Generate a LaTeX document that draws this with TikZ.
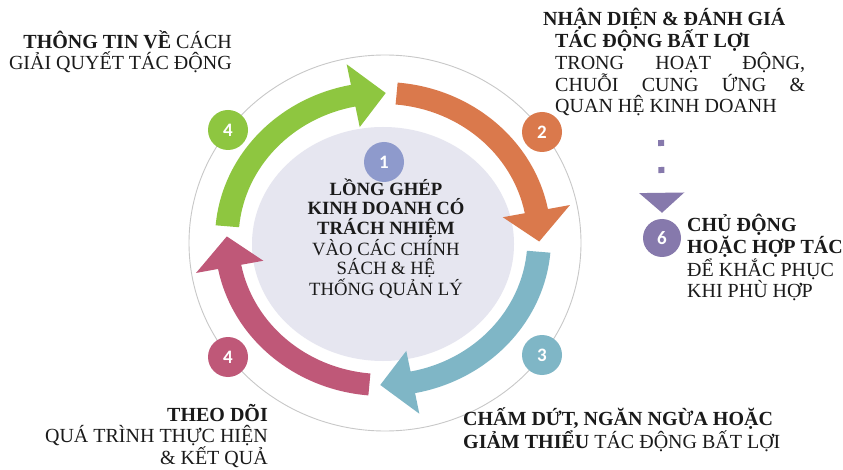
\documentclass[tikz,border=0pt]{standalone}
\usepackage{fontspec}
\setmainfont{Liberation Serif}
\newfontfamily\numfont{Carlito}
\usetikzlibrary{arrows.meta}
\definecolor{MyOrange}{HTML}{DA794C}
\definecolor{MyTeal}{HTML}{7FB6C6}
\definecolor{MyPink}{HTML}{BF5878}
\definecolor{MyGreen}{HTML}{8EC640}
\definecolor{MyBadge}{HTML}{8E9ACC}
\definecolor{MyLavender}{HTML}{E6E6F0}
\definecolor{MyPurple}{HTML}{8679AC}
\definecolor{MyRing}{HTML}{C8C8C8}
\definecolor{MyText}{HTML}{1A1A1A}

\begin{document}
\begin{tikzpicture}[x=1pt, y=1pt, every node/.style={inner sep=0pt, text=MyText},
		badge/.style={circle, minimum size=40pt, text=white, font=\numfont\bfseries\fontsize{19}{19}\selectfont},
		caption/.style={font=\fontsize{20}{21}\selectfont},
		dotlink/.style={MyPurple, line width=6pt, dash pattern=on 6pt off 21pt, -{Triangle[width=44pt, length=20pt]}}]
			\useasboundingbox (0,0) rectangle (843,469);
			\fill[white] (0,0) rectangle (843,469);
			
			\draw[MyRing, line width=0.9pt] (385,226) ellipse [x radius=196, y radius=188];
			\fill[MyLavender] (383,225) ellipse [x radius=131, y radius=117];
			
			\begin{scope}[shift={(383,230)}, xscale=1.07]
			\foreach \c/\a in {MyOrange/85, MyTeal/-5, MyPink/-95, MyGreen/175}{
			\fill[\c] (\a:157) arc [start angle=\a, end angle=\a-74, radius=157] -- ({\a-74}:178) -- ({\a-86}:146) -- ({\a-74}:114) -- ({\a-74}:135) arc [start angle=\a-74, end angle=\a, radius=135] -- cycle;}
			\end{scope}
			
			\node[badge, fill=MyBadge] (b1) at (384,307) {1};
			\node[badge, fill=MyOrange] (b2) at (542,337) {2};
			\node[badge, fill=MyTeal] (b3) at (542,114) {3};
			\node[badge, fill=MyPink] (b4b) at (228,112) {4};
			\node[badge, fill=MyGreen] (b4a) at (228,339) {4};
			\node[badge, fill=MyPurple, minimum size=38pt] (b6) at (662,231) {6};
			
			\node[font=\fontsize{18.7}{19.5}\selectfont, align=center] (integrate) at (386,230.5) {\textbf{LỒNG GHÉP}\\ \textbf{KINH DOANH CÓ}\\ \textbf{TRÁCH NHIỆM}\\ VÀO CÁC CHÍNH\\ SÁCH \& HỆ\\ THỐNG QUẢN LÝ};
			
			\node[caption, align=left, anchor=west] (identify) at (555,407) {\hspace*{-12pt}\textbf{NHẬN DIỆN \& ĐÁNH GIÁ}\\ \textbf{TÁC ĐỘNG BẤT LỢI}\\ \makebox[250pt][s]{TRONG HOẠT ĐỘNG,}\\ \makebox[250pt][s]{CHUỖI CUNG ỨNG \&}\\ QUAN HỆ KINH DOANH};
			
			\node[caption, align=right, anchor=east] (communicate) at (232,417) {\textbf{THÔNG TIN VỀ} CÁCH\\ GIẢI QUYẾT TÁC ĐỘNG};
			
			\node[caption, font=\fontsize{20}{18.5}\selectfont, align=left, anchor=west] (remedy) at (687,211.5) {\textbf{CHỦ ĐỘNG}\\ \textbf{HOẶC HỢP TÁC}\\ ĐỂ KHẮC PHỤC\\ KHI PHÙ HỢP};
			
			\node[caption, font=\fontsize{20}{20.5}\selectfont, align=right, anchor=east] (track) at (268,33) {\textbf{THEO DÕI}\\ QUÁ TRÌNH THỰC HIỆN\\ \& KẾT QUẢ};
			
			\node[caption, font=\fontsize{20}{23}\selectfont, align=left, anchor=west] (cease) at (463,39) {\textbf{CHẤM DỨT, NGĂN NGỪA HOẶC}\\ \textbf{GIẢM THIỂU} TÁC ĐỘNG BẤT LỢI};
			
			\coordinate (dottop) at (661,329);
			\draw[dotlink] (dottop) -- ([yshift=6pt]b6.north);
		\end{tikzpicture}
\end{document}
